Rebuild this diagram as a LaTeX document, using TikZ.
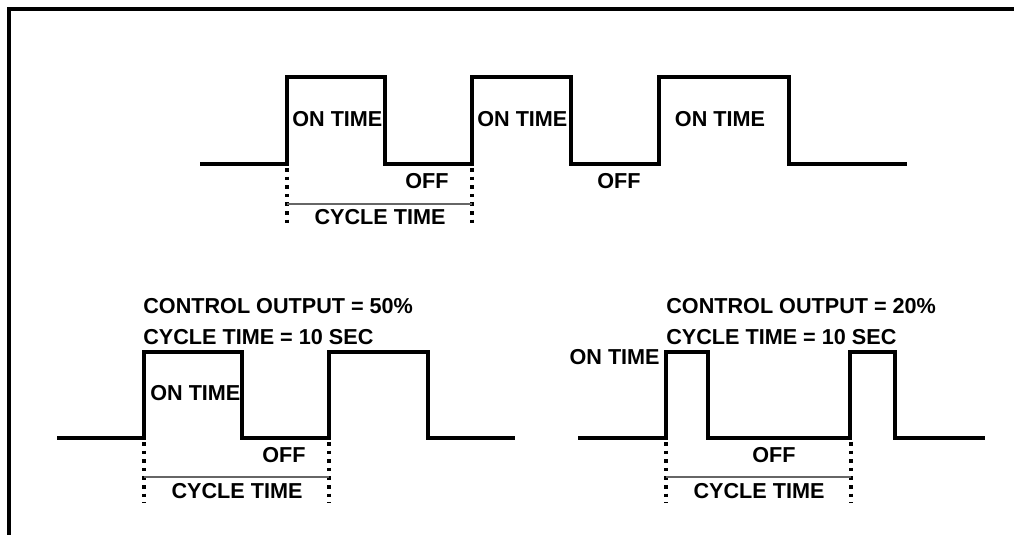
\documentclass[tikz,border=0pt]{standalone}
\usepackage{fontspec}
\setmainfont{Liberation Sans}
\usepackage{tikz}

\begin{document}
\begin{tikzpicture}[scale=0.2,
  wave/.style={black, line width=2.3pt, line join=miter},
  tick/.style={black, line width=2pt, dash pattern=on 2pt off 2.9pt},
  span/.style={black!60, line width=1.2pt},
  lbl/.style={font=\bfseries\fontsize{12.3}{14}\selectfont}]
\tikzstyle{every node}+=[inner sep=0pt]
\useasboundingbox (0,0) rectangle (101.4,-53.5);
% frame
\draw [black, line width=2pt] (0.9,-53.5) -- (0.9,-0.9) -- (101.4,-0.9);
% top wave
\draw [wave] (20,-16.4) -- (28.7,-16.4) -- (28.7,-7.7) -- (38.5,-7.7) -- (38.5,-16.4) -- (47.2,-16.4) -- (47.2,-7.7) -- (57.1,-7.7) -- (57.1,-16.4) -- (65.9,-16.4) -- (65.9,-7.7) -- (78.9,-7.7) -- (78.9,-16.4) -- (90.7,-16.4);
\draw [tick] (28.7,-16.8) -- (28.7,-22.8);
\draw [tick] (47.2,-16.8) -- (47.2,-22.8);
\draw [span] (28.7,-20.4) -- (47.2,-20.4);
\node (ontA) [lbl, anchor=west] at (29.2,-11.9) {ON TIME};
\node (ontB) [lbl, anchor=west] at (47.7,-11.9) {ON TIME};
\node (ontC) [lbl] at (72,-11.9) {ON TIME};
\node (offA) [lbl] at (42.7,-18.1) {OFF};
\node (offB) [lbl] at (61.9,-18.1) {OFF};
\node (cycA) [lbl] at (38,-21.7) {CYCLE TIME};
% lower left wave, 50%
\node (outL) [lbl, anchor=west] at (14.3,-30.6) {CONTROL OUTPUT = 50\%};
\node (ctL) [lbl, anchor=west] at (14.3,-33.7) {CYCLE TIME = 10 SEC};
\draw [wave] (5.7,-43.8) -- (14.4,-43.8) -- (14.4,-35.2) -- (24.2,-35.2) -- (24.2,-43.8) -- (32.9,-43.8) -- (32.9,-35.2) -- (42.8,-35.2) -- (42.8,-43.8) -- (51.5,-43.8);
\draw [tick] (14.4,-44.2) -- (14.4,-50.3);
\draw [tick] (32.9,-44.2) -- (32.9,-50.3);
\draw [span] (14.4,-47.7) -- (32.9,-47.7);
\node (ontL) [lbl, anchor=west] at (15,-39.3) {ON TIME};
\node (offL) [lbl] at (28.4,-45.5) {OFF};
\node (cycL) [lbl] at (23.7,-49.1) {CYCLE TIME};
% lower right wave, 20%
\node (outR) [lbl, anchor=west] at (66.6,-30.6) {CONTROL OUTPUT = 20\%};
\node (ctR) [lbl, anchor=west] at (66.6,-33.7) {CYCLE TIME = 10 SEC};
\draw [wave] (57.8,-43.8) -- (66.6,-43.8) -- (66.6,-35.2) -- (70.8,-35.2) -- (70.8,-43.8) -- (85,-43.8) -- (85,-35.2) -- (89.5,-35.2) -- (89.5,-43.8) -- (98.5,-43.8);
\draw [tick] (66.6,-44.2) -- (66.6,-50.3);
\draw [tick] (85.1,-44.2) -- (85.1,-50.3);
\draw [span] (66.6,-47.7) -- (85.1,-47.7);
\node (ontR) [lbl, anchor=east] at (66,-35.7) {ON TIME};
\node (offR) [lbl] at (77.4,-45.5) {OFF};
\node (cycR) [lbl] at (75.9,-49.1) {CYCLE TIME};
\end{tikzpicture}
\end{document}
